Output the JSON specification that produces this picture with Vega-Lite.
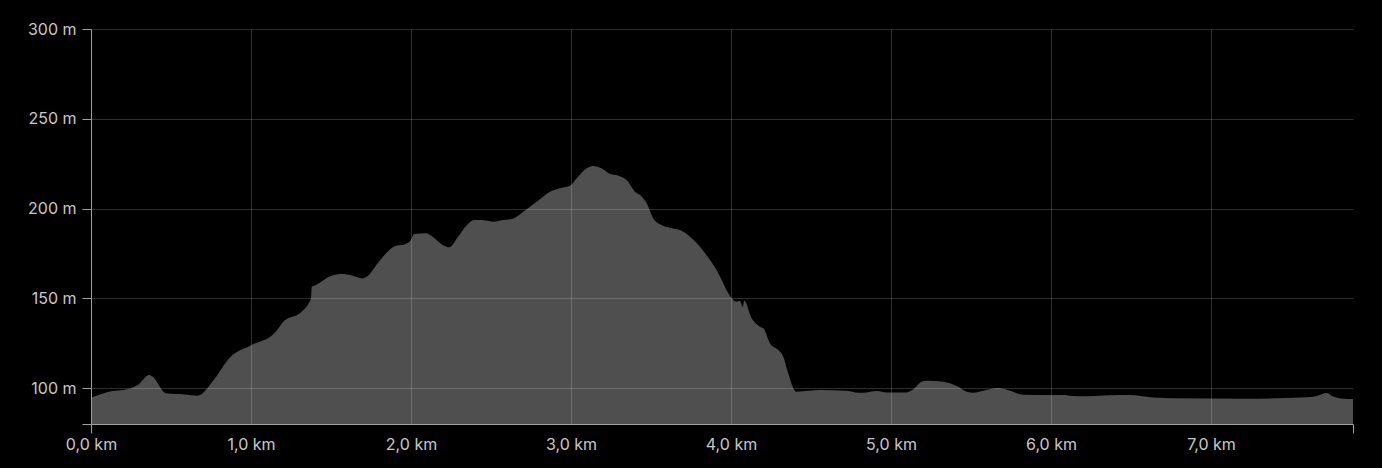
{
  "$schema": "https://vega.github.io/schema/vega-lite/v6.json",
  "width": 1262,
  "height": 395,
  "autosize": "none",
  "padding": {"left": 91, "top": 29, "right": 29, "bottom": 44},
  "background": "#000000",
  "config": {"view": {"stroke": null}},
  "data": {"values": [
    {"km": 0, "m": 94.6},
    {"km": 0.094, "m": 97.6},
    {"km": 0.25, "m": 99.9},
    {"km": 0.292, "m": 101.7},
    {"km": 0.364, "m": 107.3},
    {"km": 0.386, "m": 106.3},
    {"km": 0.469, "m": 97.1},
    {"km": 0.583, "m": 96.5},
    {"km": 0.667, "m": 95.8},
    {"km": 0.771, "m": 105},
    {"km": 0.864, "m": 116.6},
    {"km": 1.0, "m": 123.8},
    {"km": 1.146, "m": 130.5},
    {"km": 1.208, "m": 137.5},
    {"km": 1.3125, "m": 142.3},
    {"km": 1.365, "m": 148},
    {"km": 1.375, "m": 150},
    {"km": 1.38, "m": 156.4},
    {"km": 1.406, "m": 157.4},
    {"km": 1.5, "m": 162.4},
    {"km": 1.573, "m": 163.5},
    {"km": 1.625, "m": 162.8},
    {"km": 1.698, "m": 161.1},
    {"km": 1.729, "m": 162.4},
    {"km": 1.792, "m": 169.5},
    {"km": 1.854, "m": 176},
    {"km": 1.906, "m": 179.3},
    {"km": 1.958, "m": 180},
    {"km": 1.996, "m": 182},
    {"km": 2.021, "m": 185.8},
    {"km": 2.094, "m": 186.2},
    {"km": 2.135, "m": 184.3},
    {"km": 2.198, "m": 179.7},
    {"km": 2.24, "m": 178.4},
    {"km": 2.292, "m": 184},
    {"km": 2.344, "m": 190.3},
    {"km": 2.396, "m": 193.6},
    {"km": 2.4375, "m": 193.6},
    {"km": 2.515, "m": 192.7},
    {"km": 2.577, "m": 193.6},
    {"km": 2.64, "m": 194.5},
    {"km": 2.702, "m": 198.2},
    {"km": 2.785, "m": 203.8},
    {"km": 2.869, "m": 209.4},
    {"km": 2.931, "m": 211.3},
    {"km": 2.99, "m": 212.5},
    {"km": 3.035, "m": 216.8},
    {"km": 3.098, "m": 222.4},
    {"km": 3.14, "m": 223.7},
    {"km": 3.19, "m": 222.4},
    {"km": 3.244, "m": 219.2},
    {"km": 3.296, "m": 218.3},
    {"km": 3.348, "m": 215.9},
    {"km": 3.4, "m": 209.4},
    {"km": 3.431, "m": 207.5},
    {"km": 3.473, "m": 202.9},
    {"km": 3.514, "m": 194.5},
    {"km": 3.567, "m": 190.8},
    {"km": 3.629, "m": 189},
    {"km": 3.681, "m": 188},
    {"km": 3.744, "m": 184.3},
    {"km": 3.806, "m": 178.7},
    {"km": 3.869, "m": 171.3},
    {"km": 3.91, "m": 165.8},
    {"km": 3.942, "m": 160.2},
    {"km": 3.983, "m": 152.8},
    {"km": 4.004, "m": 150},
    {"km": 4.036, "m": 148.1},
    {"km": 4.056, "m": 148.5},
    {"km": 4.073, "m": 145.3},
    {"km": 4.083, "m": 148.7},
    {"km": 4.129, "m": 138.9},
    {"km": 4.181, "m": 134.2},
    {"km": 4.202, "m": 133.3},
    {"km": 4.244, "m": 124.9},
    {"km": 4.296, "m": 121.2},
    {"km": 4.327, "m": 117.5},
    {"km": 4.358, "m": 108.2},
    {"km": 4.4, "m": 98.4},
    {"km": 4.41, "m": 98},
    {"km": 4.556, "m": 98.9},
    {"km": 4.723, "m": 98.5},
    {"km": 4.796, "m": 97.4},
    {"km": 4.848, "m": 97.6},
    {"km": 4.911, "m": 98.4},
    {"km": 4.973, "m": 97.6},
    {"km": 5.098, "m": 97.6},
    {"km": 5.14, "m": 99.3},
    {"km": 5.19, "m": 103.5},
    {"km": 5.223, "m": 104.1},
    {"km": 5.327, "m": 103.5},
    {"km": 5.41, "m": 101.1},
    {"km": 5.473, "m": 98},
    {"km": 5.515, "m": 97.4},
    {"km": 5.577, "m": 98.5},
    {"km": 5.671, "m": 100},
    {"km": 5.713, "m": 99.3},
    {"km": 5.827, "m": 96.3},
    {"km": 5.973, "m": 96.1},
    {"km": 6.077, "m": 96.1},
    {"km": 6.16, "m": 95.4},
    {"km": 6.285, "m": 95.6},
    {"km": 6.431, "m": 96.1},
    {"km": 6.494, "m": 96.1},
    {"km": 6.619, "m": 94.9},
    {"km": 6.785, "m": 94.3},
    {"km": 7.202, "m": 94.1},
    {"km": 7.41, "m": 94.3},
    {"km": 7.619, "m": 95},
    {"km": 7.66, "m": 95.6},
    {"km": 7.723, "m": 97.3},
    {"km": 7.754, "m": 95.8},
    {"km": 7.827, "m": 94.1},
    {"km": 7.8875, "m": 93.9}
  ]},
  "mark": {"type": "area", "color": "#4f4f4f", "interpolate": "monotone", "clip": true},
  "encoding": {
    "x": {
      "field": "km", "type": "quantitative",
      "scale": {"domain": [0, 7.8875], "nice": false, "zero": false},
      "axis": {
        "title": null,
        "zindex": 1,
        "values": [0, 1, 2, 3, 4, 5, 6, 7, 7.8875],
        "labelExpr": "datum.value > 7.5 ? '' : replace(format(datum.value, '.1f'), '.', ',') + ' km'",
        "labelFont": "Inter",
        "labelFontSize": 16,
        "labelColor": "#c8c8c8",
        "labelPadding": 3,
        "labelFlush": false,
        "domainColor": "#a0a0a0",
        "tickColor": "#a0a0a0",
        "tickSize": 9,
        "tickOpacity": {"condition": {"test": "datum.value == 0 || datum.value > 7.5", "value": 1}, "value": 0},
        "grid": true,
        "gridColor": "#ffffff",
        "gridOpacity": {"condition": {"test": "datum.value == 0 || datum.value > 7.5", "value": 0}, "value": 0.18}
      }
    },
    "y": {
      "field": "m", "type": "quantitative",
      "scale": {"domain": [80, 300], "nice": false, "zero": false},
      "axis": {
        "title": null,
        "zindex": 1,
        "values": [80, 100, 150, 200, 250, 300],
        "labelExpr": "datum.value < 90 ? '' : datum.value + ' m'",
        "labelFont": "Inter",
        "labelFontSize": 16,
        "labelColor": "#c8c8c8",
        "labelPadding": 6,
        "labelFlush": false,
        "domainColor": "#a0a0a0",
        "tickColor": "#a0a0a0",
        "tickSize": 9,
        "grid": true,
        "gridColor": "#ffffff",
        "gridOpacity": {"condition": {"test": "datum.value < 90", "value": 0}, "value": 0.18}
      }
    }
  }
}
